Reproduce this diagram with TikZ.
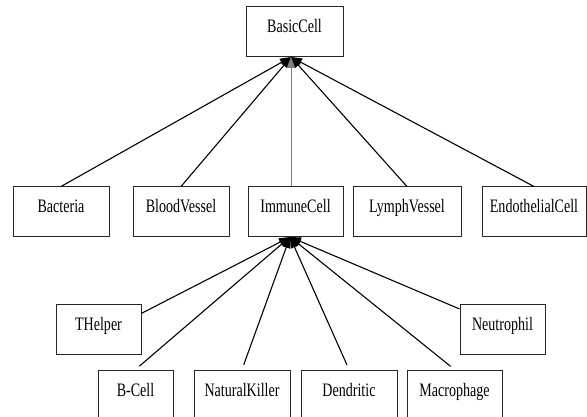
\documentclass[tikz,border=0pt]{standalone}
\usepackage{fontspec}
\usetikzlibrary{arrows.meta}
\newfontfamily\boxfont[FakeStretch=0.74]{Liberation Serif}

\begin{document}
\begin{tikzpicture}[x=1pt,y=-1pt,
  cls/.style={draw=black!85,line width=1pt,minimum height=50pt,inner sep=0pt,
    text height=8pt,text depth=6pt,font=\boxfont\fontsize{19pt}{21pt}\selectfont},
  isa/.style={line width=1.1pt,-{Triangle[width=8pt,length=11pt]}}]

\useasboundingbox (0,0) rectangle (587,417);
\clip (0,0) rectangle (587,417);

% top
\node[cls,minimum width=97pt] (basic) at (294.5,32) {BasicCell};
\coordinate (bhub) at (291,57);

% middle row
\node[cls,minimum width=96pt] (bact) at (61,212) {Bacteria};
\node[cls,minimum width=96pt] (blood) at (181,212) {BloodVessel};
\node[cls,minimum width=95pt] (immune) at (295.5,212) {ImmuneCell};
\node[cls,minimum width=108pt] (lymph) at (407,212) {LymphVessel};
\node[cls,minimum width=104pt] (endo) at (534,212) {EndothelialCell};
\coordinate (ihub) at (290,237);

% immune cells
\node[cls,minimum width=85pt] (thelper) at (98.5,329) {THelper};
\node[cls,minimum width=85pt] (neutro) at (502.5,329) {Neutrophil};
\node[cls,minimum width=75pt] (bcell) at (135.5,395) {B-Cell};
\node[cls,minimum width=96pt] (nkiller) at (242,395) {NaturalKiller};
\node[cls,minimum width=96pt] (dendr) at (349,395) {Dendritic};
\node[cls,minimum width=95pt] (macro) at (454.5,395) {Macrophage};

% inheritance to BasicCell
\draw[isa] (bact.north) -- (bhub);
\draw[isa] (blood.north) -- (bhub);
\draw[isa,draw=black!50,line width=0.9pt] (bhub |- immune.north) -- (bhub);
\draw[isa] (lymph.north) -- (bhub);
\draw[isa] (endo.north) -- (bhub);

% inheritance to ImmuneCell
\draw[isa] (thelper.20) -- (ihub);
\draw[isa] (neutro.155) -- (ihub);
\draw[isa,shorten <=5pt] (bcell.north) -- (ihub);
\draw[isa,shorten <=5pt] (nkiller.north) -- (ihub);
\draw[isa,shorten <=5pt] (dendr.north) -- (ihub);
\draw[isa,shorten <=5pt] (macro.north) -- (ihub);

\end{tikzpicture}
\end{document}
